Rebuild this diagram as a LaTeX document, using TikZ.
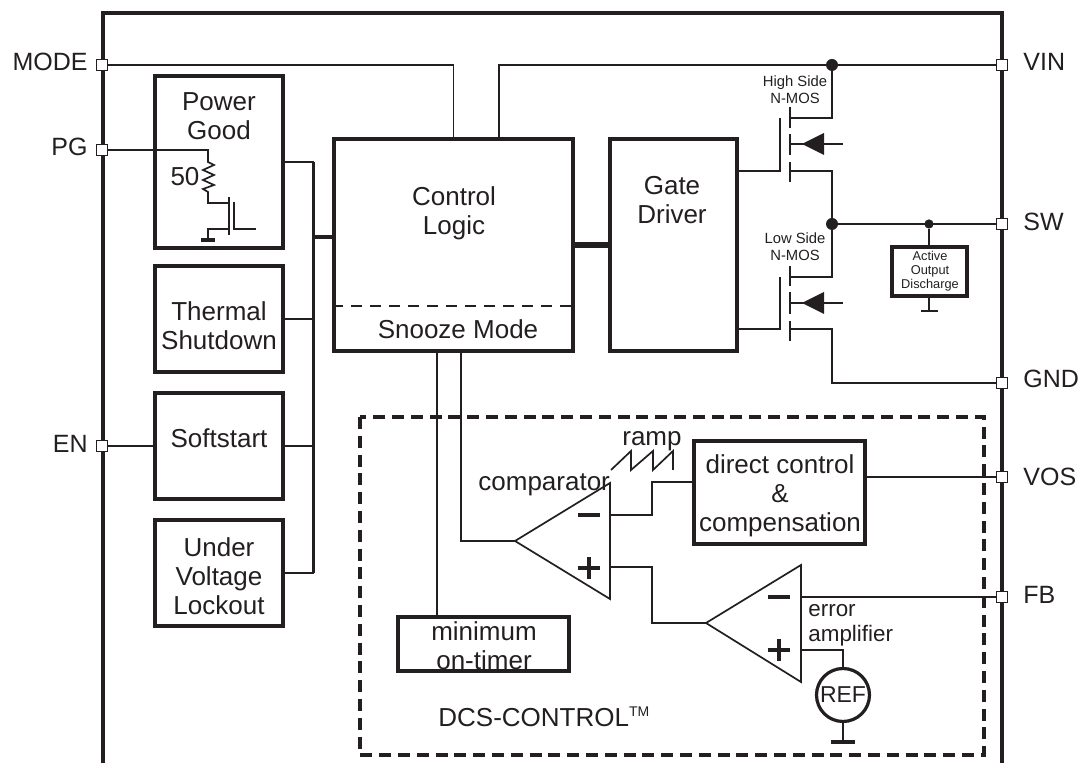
\documentclass[tikz,border=0pt]{standalone}
\usepackage{fontspec}
\setmainfont{Liberation Sans}
\definecolor{ink}{HTML}{231F20}
\tikzset{
  blockbox/.style={draw=ink, line width=1.8pt, inner sep=0pt, align=center},
  wire/.style={draw=ink, line width=.85pt},
  busline/.style={draw=ink, line width=1.8pt},
  pinbox/.style={draw=ink, fill=white, line width=.6pt, minimum size=5.5pt, inner sep=0pt},
  pinlabel/.style={font=\fontsize{12.5}{14}\selectfont, text=ink, inner sep=0pt},
  biglabel/.style={font=\fontsize{13}{14.5}\selectfont, text=ink, inner sep=0pt, align=center},
  smalllabel/.style={font=\fontsize{7.4}{8.4}\selectfont, text=ink, inner sep=0pt, align=center},
  blackdot/.style={circle, fill=ink, inner sep=0pt, minimum size=6pt},
  signmark/.style={draw=ink, line width=2pt}
}
\begin{document}
\begin{tikzpicture}[x=.5pt, y=-.5pt]
  \useasboundingbox (0,0) rectangle (1078,763);
  % package outline
  \draw[busline] (103,763) -- (103,13) -- (1002,13) -- (1002,763);

  % left column
  \node[blockbox, minimum width=64pt, minimum height=86pt] (pgood) at (219,162) {};
  \node[blockbox, minimum width=64pt, minimum height=53pt] (thermal) at (219,319) {};
  \node[blockbox, minimum width=64pt, minimum height=53pt] (softstart) at (219,446) {};
  \node[blockbox, minimum width=64pt, minimum height=53pt] (uvlo) at (219,573) {};
  \node[biglabel] (pgoodtxt) at (219,116) {Power\\Good};
  \node[biglabel] (thermaltxt) at (219,326) {Thermal\\Shutdown};
  \node[biglabel] (softtxt) at (219,438) {Softstart};
  \node[biglabel] (uvlotxt) at (219,576) {Under\\Voltage\\Lockout};

  % centre blocks
  \node[blockbox, minimum width=119.5pt, minimum height=106pt] (logic) at (453.5,245) {};
  \node[blockbox, minimum width=63.5pt, minimum height=106pt] (driver) at (673.5,245) {};
  \node[biglabel] (logictxt) at (454,213) {Control\\Logic};
  \node[biglabel] (snoozetxt) at (458,329) {Snooze Mode};
  \node[biglabel] (drivertxt) at (672,200) {Gate\\Driver};
  \draw[ink, line width=.8pt, dash pattern=on 5.5pt off 4pt] (logic.west |- 0,306) -- (logic.east |- 0,306);
  \draw[ink, line width=2.6pt] (logic.east |- 0,245) -- (driver.west |- 0,245);

  % bus to the logic block
  \coordinate (bustop) at (313.5,162);
  \coordinate (busbot) at (313.5,573);
  \draw[busline] (bustop) -- (busbot);
  \draw[busline] (bustop |- 0,237) -- (logic.west |- 0,237);
  \draw[wire] (pgood.east) -- (bustop);
  \draw[wire] (thermal.east) -- (thermal.east -| bustop);
  \draw[wire] (softstart.east) -- (softstart.east -| bustop);
  \draw[wire] (uvlo.east) -- (busbot);

  % pins
  \node[pinbox] (pinmode) at (102,65) {};
  \node[pinbox] (pinpg) at (102,150) {};
  \node[pinbox] (pinen) at (102,446) {};
  \node[pinbox] (pinvin) at (1002,65) {};
  \node[pinbox] (pinsw) at (1002,224) {};
  \node[pinbox] (pingnd) at (1002,383) {};
  \node[pinbox] (pinvos) at (1002,477) {};
  \node[pinbox] (pinfb) at (1002,597) {};
  \node[pinlabel, anchor=east] (mode) at (88,62) {MODE};
  \node[pinlabel, anchor=east] (pg) at (88,147) {PG};
  \node[pinlabel, anchor=east] (en) at (88,444) {EN};
  \node[pinlabel, anchor=west] (vin) at (1023,62) {VIN};
  \node[pinlabel, anchor=west] (sw) at (1023,222) {SW};
  \node[pinlabel, anchor=west] (gnd) at (1023,379) {GND};
  \node[pinlabel, anchor=west] (vos) at (1023,477) {VOS};
  \node[pinlabel, anchor=west] (fb) at (1023,595) {FB};

  % wires from the pins
  \coordinate (vintap) at (499,139);
  \draw[wire] (pinmode) -| (logic.north);
  \draw[wire] (pinvin) -| (vintap);
  \draw[wire] (pinen) -- (softstart.west);

  % power good resistor and fet
  \node[biglabel] (fifty) at (185,177) {50};
  \draw[wire] (pinpg) -| (208,162) -- (214,165) -- (203,170) -- (214,175) -- (203,180) -- (214,185) -- (203,189) -- (208,192) -- (208,203) -- (229,203);
  \draw[wire] (229,197) -- (229,235);
  \draw[wire] (234,202) -- (234,229) -- (256,229);
  \draw[wire] (229,229) -- (208,229) -- (208,239);
  \draw[ink, line width=1.8pt] (201,240) -- (215,240);

  % high side fet
  \node[blackdot] (vindot) at (832,65) {};
  \node[blackdot] (swdot) at (832,224) {};
  \node[smalllabel] (hstxt) at (795,90) {High Side\\N-MOS};
  \node[smalllabel] (lstxt) at (795,247) {Low Side\\N-MOS};
  \draw[wire] (driver.east |- 0,171) -- (780,171) -- (780,118);
  \draw[wire] (790,107) -- (790,128) (790,134) -- (790,155) (790,162) -- (790,182);
  \draw[wire] (790,118) -- (832,118) -- (vindot);
  \draw[wire] (790,171) -- (832,171) -- (swdot);
  \draw[wire] (790,144) -- (843,144);
  \fill[ink] (802,144) -- (824,133) -- (824,155) -- cycle;

  % low side fet
  \draw[wire] (driver.east |- 0,329) -- (780,329) -- (780,277);
  \draw[wire] (790,266) -- (790,286) (790,292) -- (790,314) (790,321) -- (790,341);
  \draw[wire] (790,277) -- (832,277) -- (swdot);
  \draw[wire] (790,329) -- (832,329) -- (832,383) -- (pingnd);
  \draw[wire] (790,303) -- (843,303);
  \fill[ink] (802,303) -- (824,292) -- (824,314) -- cycle;

  % sw node and discharge
  \draw[wire] (swdot) -- (pinsw);
  \node[blackdot, minimum size=4.6pt] (aoddot) at (929,224) {};
  \node[blockbox, minimum width=37.5pt, minimum height=24.5pt] (aod) at (929.5,271.5) {};
  \node[smalllabel, font=\fontsize{6.4}{7}\selectfont] (aodtxt) at (930,271) {Active\\Output\\Discharge};
  \coordinate (aodgnd) at (929,311);
  \draw[wire] (aoddot) -- (aod.north -| aoddot);
  \draw[wire] (aod.south -| aodgnd) -- (aodgnd);
  \draw[wire] (921,311) -- (938,311);

  % dcs control region
  \draw[ink, line width=1.8pt, dash pattern=on 6pt off 3.4pt] (360,417) rectangle (984,755);
  \node[biglabel, anchor=base west] (dcs) at (438,727) {DCS-CONTROL\raisebox{5pt}{\fontsize{7}{7}\selectfont TM}};

  \node[blockbox, minimum width=85.5pt, minimum height=51.5pt] (direct) at (779.5,492.5) {};
  \node[biglabel] (directtxt) at (780,496) {direct control\\\&\\compensation};
  \node[blockbox, minimum width=85.5pt, minimum height=27pt] (ontimer) at (483.5,644) {};
  \node[biglabel] (ontimertxt) at (484,646) {minimum\\on-timer};
  \draw[wire] (direct.east |- 0,477) -- (pinvos);

  % comparator
  \coordinate (cmptip) at (515,541);
  \coordinate (cmpminus) at (610,515);
  \coordinate (cmpplus) at (610,567);
  \draw[wire] (cmptip) -- (610,483) -- (610,599) -- cycle;
  \node[biglabel, anchor=base west] (cmptxt) at (478,491) {comparator};
  \node[biglabel, anchor=base] (ramptxt) at (652,446) {ramp};
  \draw[wire] (611,470) -- (631,451) -- (631,470) -- (653,451) -- (653,470) -- (673,451) -- (673,470);
  \draw[signmark] (578,515) -- (600,515) (578,568) -- (600,568) (589,557) -- (589,579);
  \draw[wire] (461,351) -- (461,541) -- (cmptip);
  \draw[wire] (437,351) -- (ontimer.north -| 437,0);
  \draw[wire] (cmpminus) -- (652,515) -- (652,482) -- (direct.west |- 0,482);

  % error amplifier
  \coordinate (erramptip) at (706,623);
  \coordinate (errminus) at (801,597);
  \coordinate (errplus) at (801,650);
  \draw[wire] (erramptip) -- (801,565) -- (801,682) -- cycle;
  \draw[signmark] (768,597) -- (790,597) (768,650) -- (790,650) (779,639) -- (779,661);
  \draw[wire] (cmpplus) -- (652,567) -- (652,623) -- (erramptip);
  \draw[wire] (errminus) -- (pinfb);
  \node[biglabel, anchor=base west, font=\fontsize{11.2}{12}\selectfont] (errortxt) at (808,617) {error};
  \node[biglabel, anchor=base west, font=\fontsize{11.2}{12}\selectfont] (amptxt) at (808,642) {amplifier};

  % reference
  \node[circle, draw=ink, line width=1.6pt, minimum size=26.5pt, inner sep=0pt, font=\fontsize{11.5}{12}\selectfont, text=ink] (ref) at (843,695) {REF};
  \coordinate (refgnd) at (843,742);
  \draw[wire] (errplus) -| (ref.north);
  \draw[wire] (ref.south) -- (refgnd);
  \draw[ink, line width=1.8pt] (831,742) -- (855,742);
\end{tikzpicture}
\end{document}
